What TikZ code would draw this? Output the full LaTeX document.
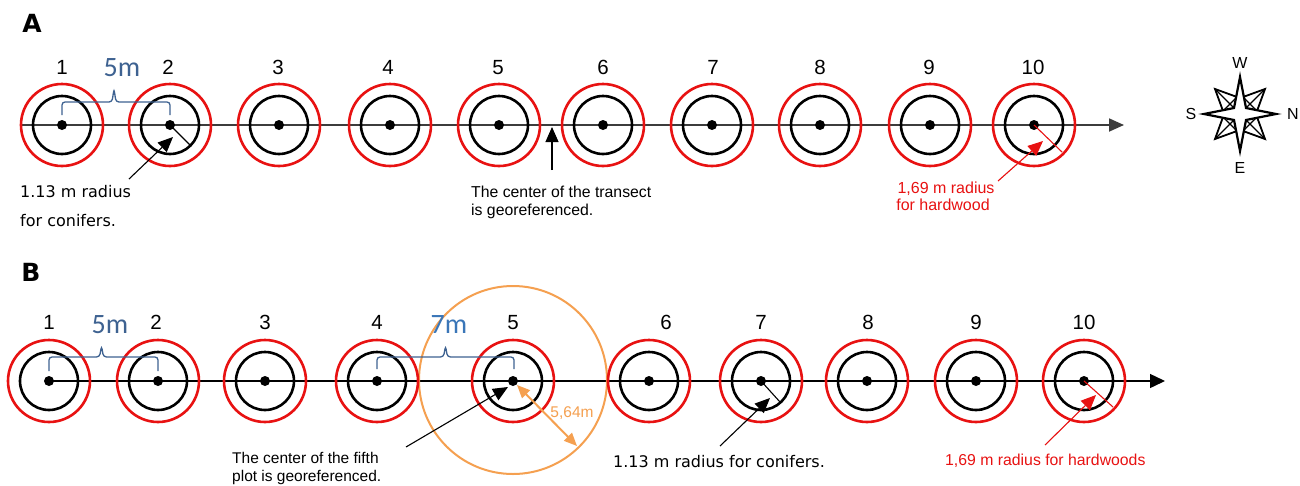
\documentclass[tikz,border=0pt]{standalone}
\usepackage{fontspec}
\setmainfont{Liberation Sans}
\newfontfamily\verdfont{DejaVu Sans}
\newfontfamily\calfont{Carlito}
\usetikzlibrary{arrows.meta}
\definecolor{plotred}{RGB}{232,18,18}
\definecolor{braceblue}{RGB}{62,98,145}
\definecolor{sevenblue}{RGB}{58,118,184}
\definecolor{orng}{RGB}{245,160,80}
\definecolor{lineg}{RGB}{60,60,60}
\tikzset{
  conif/.style={circle,draw=black,line width=2.6pt,minimum size=58pt,inner sep=0pt},
  hard/.style={draw=plotred,line width=2.6pt},
  num/.style={font=\fontsize{20.5}{22}\selectfont,anchor=base,inner sep=0pt},
  brc/.style={draw=braceblue,line width=1.3pt,rounded corners=3pt},
  dist/.style={font=\calfont\fontsize{28}{30}\selectfont,anchor=base,inner sep=0pt,text=braceblue},
  panel/.style={font=\verdfont\bfseries\fontsize{25}{28}\selectfont,inner sep=0pt},
  arial/.style={font=\fontsize{15.8}{18}\selectfont,anchor=base west,inner sep=0pt},
  verd/.style={font=\verdfont\fontsize{16}{18}\selectfont,anchor=base west,inner sep=0pt},
  redtxt/.style={font=\fontsize{16}{18}\selectfont,anchor=base,inner sep=0pt,text=plotred},
  ann/.style={line width=1.1pt,-{Triangle[length=15pt,width=13pt]}},
  radl/.style={line width=1.1pt},
  compass/.style={font=\fontsize{16}{18}\selectfont,inner sep=0pt},
  transA/.style={draw=lineg,line width=1.8pt,-{Triangle[length=15pt,width=13pt]}},
  transB/.style={draw=black,line width=1.4pt,-{Triangle[length=15pt,width=14pt]}},
  spike/.style={line width=1.8pt,fill=white,line join=miter},
}
\begin{document}
\begin{tikzpicture}[x=1pt,y=-1pt]
\useasboundingbox (0,0) rectangle (1300,485);
\fill[white] (0,0) rectangle (1300,485);
% ---------------- Panel A ----------------
\node[panel] (labA) at (32,23.5) {A};
\coordinate (aStart) at (20,125);
\coordinate (aEnd) at (1124,125);
\draw[transA] (aStart) -- (aEnd);
\foreach \i/\x/\n in {1/62/62,2/170/168,3/279/278,4/390/388,5/499/498,6/603/603,7/712/713,8/820/820,9/930/929,10/1034/1033}{
  \node[conif] (a\i) at (\x,125) {};
  \draw[hard] (a\i.center) circle[radius=41pt];
  \fill (a\i.center) circle[radius=5pt];
  \node[num] (an\i) at (\n,74) {\i};
}
\coordinate (ab1) at (62,115);
\coordinate (ab2) at (170,115);
\draw[brc] (ab1) -- ++(0,-13) -- ++(50,0) -- ++(2,-13) -- ++(2,13) -- (ab2 |- 0,102) -- (ab2);
\node[dist] (a5m) at (122,76) {5m};
% conifer annotation A
\coordinate (arad) at (190,145);
\draw[radl] (a2.center) -- (arad);
\coordinate (aconS) at (129,179);
\coordinate (aconT) at (173,137);
\draw[ann] (aconS) -- (aconT);
\node[verd] (acon1) at (20,197) {1.13 m radius};
\node[verd] (acon2) at (20,226) {for conifers.};
% center marker A
\coordinate (actrS) at (552,170);
\coordinate (actrT) at (552,127);
\draw[ann] (actrS) -- (actrT);
\node[arial] (actr1) at (471,197) {The center of the transect};
\node[arial] (actr2) at (471,215) {is georeferenced.};
% hardwood annotation A
\coordinate (aredR) at (1062,152);
\draw[radl,draw=plotred] (a10.center) -- (aredR);
\coordinate (aredS) at (998,181);
\coordinate (aredT) at (1043,141);
\draw[ann,draw=plotred,fill=plotred] (aredS) -- (aredT);
\node[redtxt] (ared1) at (946,193) {1,69 m radius};
\node[redtxt] (ared2) at (943,210) {for hardwood};
% compass
\begin{scope}[shift={(1240,114)}]
  \foreach \sx/\sy in {1/1,1/-1,-1/1,-1/-1}{
    \draw[spike] (5*\sx,5*\sy) -- (3*\sx,17*\sy) -- (25*\sx,25*\sy) -- (17*\sx,3*\sy) -- cycle;
    \draw[line width=1.3pt] (5*\sx,5*\sy) -- (25*\sx,25*\sy) (3*\sx,17*\sy) -- (17*\sx,3*\sy);
  }
  \draw[line width=2.2pt,fill=white,line join=miter]
    (0,-37) -- (6,-6) -- (36,0) -- (6,6) -- (0,37) -- (-6,6) -- (-36,0) -- (-6,-6) -- cycle;
\end{scope}
\node[compass] (cW) at (1240,63) {W};
\node[compass] (cE) at (1240,168) {E};
\node[compass] (cS) at (1191,114) {S};
\node[compass] (cN) at (1293,114) {N};
% ---------------- Panel B ----------------
\node[panel] (labB) at (31,272.5) {B};
\coordinate (bStart) at (49,381);
\coordinate (bEnd) at (1165,381);
\draw[transB] (bStart) -- (bEnd);
\draw[orng,line width=2pt] (513,380) circle[radius=94pt];
\foreach \i/\x/\n in {1/49/49,2/158/156,3/265/265,4/377/377,5/513/513,6/649/666,7/761/761,8/867/868,9/976/976,10/1084/1084}{
  \node[conif] (b\i) at (\x,381) {};
  \draw[hard] (b\i.center) circle[radius=41pt];
  \fill (b\i.center) circle[radius=5pt];
  \node[num] (bn\i) at (\n,329) {\i};
}
\coordinate (bb1) at (49,371);
\coordinate (bb2) at (158,371);
\draw[brc] (bb1) -- ++(0,-14) -- ++(50.5,0) -- ++(2,-11) -- ++(2,11) -- (bb2 |- 0,357) -- (bb2);
\node[dist] (b5m) at (110,333) {5m};
\coordinate (bb4) at (377,369);
\coordinate (bb5) at (514,369);
\draw[brc] (bb4) -- ++(0,-12) -- ++(66.5,0) -- ++(2,-11) -- ++(2,11) -- (bb5 |- 0,357) -- (bb5);
\node[dist,text=sevenblue] (b7m) at (449,333) {7m};
% orange radius
\coordinate (boS) at (517,385);
\coordinate (boT) at (577,446);
\draw[orng,line width=2pt,{Triangle[length=13pt,width=11pt]}-{Triangle[length=13pt,width=11pt]}] (boS) -- (boT);
\node[font=\fontsize{15.5}{17}\selectfont,text=orng,anchor=base,inner sep=0pt] (b564) at (572,417) {5,64m};
% center annotation B
\coordinate (bctrS) at (406,447);
\coordinate (bctrT) at (508,387);
\draw[ann] (bctrS) -- (bctrT);
\node[arial,font=\fontsize{15.5}{17}\selectfont] (bctr1) at (232,463) {The center of the fifth};
\node[arial,font=\fontsize{15.5}{17}\selectfont] (bctr2) at (232,481) {plot is georeferenced.};
% conifer annotation B
\coordinate (brad) at (780,402);
\draw[radl] (b7.center) -- (brad);
\coordinate (bconS) at (720,446);
\coordinate (bconT) at (770,398);
\draw[ann] (bconS) -- (bconT);
\node[verd] (bcon) at (613,467) {1.13 m radius for conifers.};
% hardwood annotation B
\coordinate (bredR) at (1113,407);
\draw[radl,draw=plotred] (b10.center) -- (bredR);
\coordinate (bredS) at (1045,445);
\coordinate (bredT) at (1096,395);
\draw[ann,draw=plotred,fill=plotred] (bredS) -- (bredT);
\node[redtxt,anchor=base west,font=\fontsize{15.8}{18}\selectfont] (bred) at (945,465) {1,69 m radius for hardwoods};
\end{tikzpicture}
\end{document}
